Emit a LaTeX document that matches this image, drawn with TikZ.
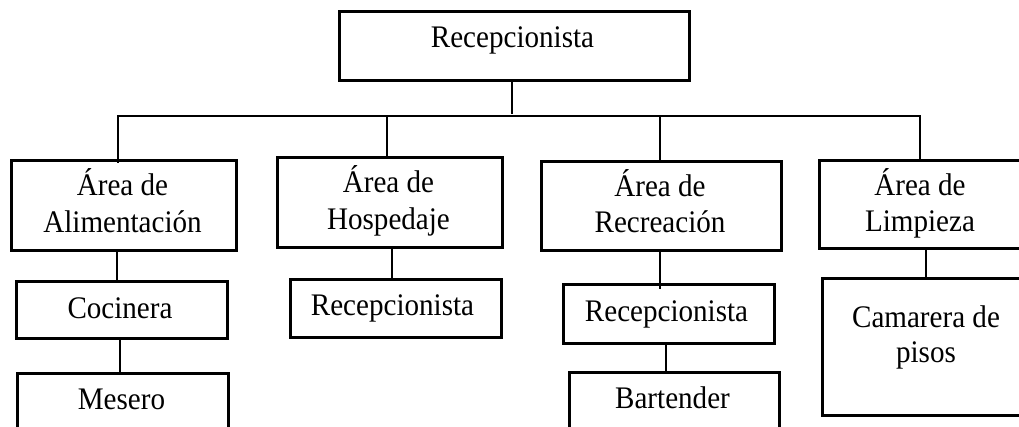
\documentclass[tikz,border=0pt]{standalone}
\usepackage{fontspec}
\setmainfont{Liberation Serif}
\newcommand{\vstr}[1]{\scalebox{1.01}[1.09]{#1}}
\begin{document}
\begin{tikzpicture}[x=1pt,y=-1pt,
  box/.style={draw, line width=2.7pt, rectangle, inner sep=0pt, anchor=north west},
  conn/.style={draw, line width=1.4pt},
  lbl/.style={font=\fontsize{28.8}{35.5}\selectfont, anchor=base, inner sep=0pt}]
\useasboundingbox (0,0) rectangle (1019,427);
\fill[white] (0,0) rectangle (1019,427);
\begin{scope}
\clip (0,0) rectangle (1019,427);
% boxes
\node[box, minimum width=350pt, minimum height=69pt] (top) at (338,10) {};
\node[box, minimum width=225pt, minimum height=90pt] (alim) at (10,159) {};
\node[box, minimum width=225pt, minimum height=90pt] (hosp) at (276,156) {};
\node[box, minimum width=240pt, minimum height=89pt] (recre) at (540,160) {};
\node[box, minimum width=204pt, minimum height=88pt] (limp) at (818,159) {};
\node[box, minimum width=211pt, minimum height=57pt] (coc) at (15,280) {};
\node[box, minimum width=211pt, minimum height=90pt] (mes) at (16,372) {};
\node[box, minimum width=211pt, minimum height=58pt] (recH) at (289,278) {};
\node[box, minimum width=211pt, minimum height=59pt] (recR) at (562,283) {};
\node[box, minimum width=210pt, minimum height=90pt] (bart) at (568,371) {};
\node[box, minimum width=210pt, minimum height=137pt] (cam) at (821,277) {};
% texts
\node[lbl] (tTop) at (512.5,48) {\vstr{Recepcionista}};
\node[lbl] (tAlimA) at (122.5,196) {\vstr{Área de}};
\node[lbl] (tAlimB) at (122.5,232.5) {\vstr{Alimentación}};
\node[lbl] (tHospA) at (388.5,193) {\vstr{Área de}};
\node[lbl] (tHospB) at (388.5,229.5) {\vstr{Hospedaje}};
\node[lbl] (tRecreA) at (660,197) {\vstr{Área de}};
\node[lbl] (tRecreB) at (660,233) {\vstr{Recreación}};
\node[lbl] (tLimpA) at (920,196) {\vstr{Área de}};
\node[lbl] (tLimpB) at (920,232) {\vstr{Limpieza}};
\node[lbl] (tCoc) at (120,319) {\vstr{Cocinera}};
\node[lbl] (tRecH) at (392.5,316) {\vstr{Recepcionista}};
\node[lbl] (tRecR) at (666.5,321) {\vstr{Recepcionista}};
\node[lbl] (tMes) at (121.5,409) {\vstr{Mesero}};
\node[lbl] (tBart) at (672.5,408) {\vstr{Bartender}};
\node[lbl] (tCamA) at (926,327) {\vstr{Camarera de}};
\node[lbl] (tCamB) at (926,362) {\vstr{pisos}};
% bus
\coordinate (bus) at (512,116);
\coordinate (bL) at (118,116);
\coordinate (bH) at (387,116);
\coordinate (bC) at (660,116);
\coordinate (bR) at (920,116);
\draw[conn] (bus |- top.south) -- ([yshift=2pt]bus);
\draw[conn] ([yshift=-4pt]bL |- alim.north) -- (bL) -- (bR) -- ([yshift=-1pt]bR |- limp.north);
\draw[conn] (bH) -- ([yshift=-1pt]bH |- hosp.north);
\draw[conn] (bC) -- ([yshift=-1pt]bC |- recre.north);
% level 3
\coordinate (xA) at (117,0);
\coordinate (xC) at (120,0);
\coordinate (xH) at (392,0);
\coordinate (xR) at (660,0);
\coordinate (xB) at (666,0);
\coordinate (xL) at (926,0);
\draw[conn] (xA |- alim.south) -- (xA |- coc.north);
\draw[conn] (xC |- coc.south) -- (xC |- mes.north);
\draw[conn] (xH |- hosp.south) -- (xH |- recH.north);
\draw[conn] (xR |- recre.south) -- ([yshift=-6pt]xR |- recR.north);
\draw[conn] (xB |- recR.south) -- (xB |- bart.north);
\draw[conn] (xL |- limp.south) -- (xL |- cam.north);
\end{scope}
\end{tikzpicture}
\end{document}
